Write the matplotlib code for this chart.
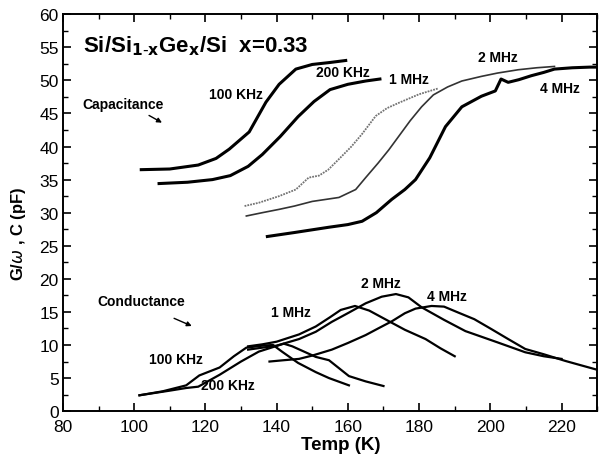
import matplotlib
matplotlib.use("Agg")
import matplotlib.pyplot as plt
from matplotlib.ticker import MultipleLocator

plt.rcParams['font.family'] = ['Liberation Sans', 'DejaVu Sans']

# ---- capacitance curves (pF) ----
c100k_T = [102, 110, 118, 123, 126.7, 132.3, 137, 140.7, 145.4, 150, 155, 159.4]
c100k_C = [36.5, 36.6, 37.2, 38.2, 39.6, 42.2, 46.7, 49.4, 51.7, 52.4, 52.7, 53.0]

c200k_T = [107, 115, 122, 127, 132, 136, 141, 146, 150.5, 155, 160, 165, 169]
c200k_C = [34.4, 34.6, 35.0, 35.6, 37.0, 38.8, 41.5, 44.5, 46.8, 48.6, 49.4, 49.9, 50.2]

c1m_T = [131, 135, 140.7, 145.4, 149, 151.9, 154.5, 157.5, 161, 164, 167.8, 171, 174.3, 180, 185.5]
c1m_C = [31.0, 31.5, 32.5, 33.5, 35.3, 35.6, 36.5, 38.1, 40.0, 41.9, 44.6, 45.8, 46.6, 47.9, 48.8]

c2m_T = [131.5, 136, 140.7, 145, 150, 157.5, 162.2, 165, 168.5, 171.5, 174.5, 177.5,
         180.7, 184, 188, 192, 197.5, 202, 207.8, 213, 218]
c2m_C = [29.5, 30.0, 30.5, 31.0, 31.7, 32.3, 33.5, 35.3, 37.5, 39.5, 41.7, 43.9,
         46.0, 47.8, 49.0, 49.9, 50.6, 51.1, 51.6, 51.9, 52.1]

c4m_T = [137.4, 145, 154.7, 160, 164, 168, 172.3, 176, 179, 183, 187.4, 192, 197.5,
         201.4, 203, 205, 208, 211.5, 215, 218, 223, 228, 230]
c4m_C = [26.4, 27.0, 27.8, 28.2, 28.7, 30.0, 32.0, 33.5, 35.0, 38.3, 43.0, 46.0, 47.6,
         48.4, 50.2, 49.7, 50.1, 50.7, 51.2, 51.7, 51.9, 52.0, 52.0]

# ---- conductance curves G/w (pF) ----
g100k_T = [101.5, 108, 114.6, 118.3, 124, 128, 131.5, 136, 139, 141.5, 146, 151, 154.7, 160.3]
g100k_G = [2.4, 3.0, 3.9, 5.4, 6.6, 8.3, 9.6, 9.9, 10.0, 9.0, 7.3, 5.9, 5.0, 3.9]

g200k_T = [101.5, 110, 114.6, 118, 124, 130, 135, 138.5, 142, 144.4, 151, 154.7, 160.3, 165, 170]
g200k_G = [2.4, 3.1, 3.5, 3.7, 5.5, 7.5, 9.0, 9.6, 10.2, 9.8, 8.2, 7.7, 5.3, 4.5, 3.8]

g1m_T = [132, 136, 140, 146.3, 151, 155, 158, 162, 166, 171.5, 176, 181.8, 186, 190]
g1m_G = [9.8, 10.1, 10.5, 11.6, 12.8, 14.2, 15.3, 15.9, 15.2, 13.6, 12.3, 10.9, 9.5, 8.3]

g2m_T = [132, 136, 140, 146.3, 151, 155.5, 160.3, 165, 169.5, 173.5, 177, 180.7,
         187, 193, 202, 209.8, 215, 220]
g2m_G = [9.3, 9.6, 9.9, 10.9, 12.0, 13.5, 14.9, 16.3, 17.3, 17.7, 17.2, 15.7,
         13.8, 12.1, 10.4, 8.9, 8.3, 7.9]

g4m_T = [138, 142, 146.3, 150, 155.5, 160, 165, 168.5, 172.4, 176, 179, 183.5, 187,
         191, 195.5, 200.3, 205, 209.8, 215, 221, 225, 229.7]
g4m_G = [7.5, 7.7, 7.9, 8.4, 9.3, 10.3, 11.5, 12.5, 13.6, 14.8, 15.5, 15.9, 15.8,
         14.9, 13.9, 12.4, 10.9, 9.4, 8.6, 7.6, 7.0, 6.3]

# curve labels: (text, T, value)
cap_labels = [("100 KHz", 121.1, 47.9), ("200 KHz", 151.0, 51.2), ("1 MHz", 171.5, 50.2),
              ("2 MHz", 196.6, 53.6), ("4 MHz", 214.0, 48.8)]
cond_labels = [("100 KHz", 104.3, 7.9), ("200 KHz", 118.9, 3.9), ("1 MHz", 138.5, 15.0),
               ("2 MHz", 163.6, 19.3), ("4 MHz", 182.1, 17.4)]

fig = plt.figure(figsize=(5.99, 4.60), dpi=100)
ax = fig.add_axes([0.105, 0.104, 0.892, 0.863])

# capacitance
ax.plot(c100k_T, c100k_C, color='black', lw=2.2)
ax.plot(c200k_T, c200k_C, color='black', lw=2.2)
ax.plot(c1m_T, c1m_C, color='0.45', lw=1.3, ls=(0, (1, 0.6)))
ax.plot(c2m_T, c2m_C, color='0.2', lw=1.2)
ax.plot(c4m_T, c4m_C, color='black', lw=2.2)

# conductance
for T, G in [(g100k_T, g100k_G), (g200k_T, g200k_G), (g1m_T, g1m_G),
             (g2m_T, g2m_G), (g4m_T, g4m_G)]:
    ax.plot(T, G, color='black', lw=1.6)

for txt, x, y in cap_labels + cond_labels:
    ax.text(x, y, txt, fontsize=10, fontweight='bold', va='center', ha='left')

ax.text(85.6, 55.3, r'Si/Si$_{\mathbf{1\text{-}x}}$Ge$_{\mathbf{x}}$/Si  x=0.33',
        fontsize=16, fontweight='bold', va='center', ha='left')
ax.text(85.6, 46.4, 'Capacitance', fontsize=10, fontweight='bold', va='center')
ax.annotate('', xy=(108.5, 43.4), xytext=(103.5, 44.9),
            arrowprops=dict(arrowstyle='-|>', color='black', lw=1.0, mutation_scale=7))
ax.text(89.8, 16.6, 'Conductance', fontsize=10, fontweight='bold', va='center')
ax.annotate('', xy=(116.9, 12.7), xytext=(110.5, 14.2),
            arrowprops=dict(arrowstyle='-|>', color='black', lw=1.0, mutation_scale=7))

ax.set_xlim(80, 230)
ax.set_ylim(0, 60)
ax.xaxis.set_major_locator(MultipleLocator(20))
ax.xaxis.set_minor_locator(MultipleLocator(10))
ax.yaxis.set_major_locator(MultipleLocator(5))
ax.yaxis.set_minor_locator(MultipleLocator(2.5))
ax.tick_params(which='both', direction='in', top=True, right=True, labelsize=12.5)
ax.tick_params(axis='x', which='major', pad=6)
ax.tick_params(axis='y', which='major', pad=3)
ax.tick_params(which='major', length=6, width=1.2)
ax.tick_params(which='minor', length=3.5, width=1.0)
for s in ax.spines.values():
    s.set_linewidth(1.4)

ax.set_xlabel('Temp (K)', fontsize=13.5, fontweight='bold')
ax.set_ylabel(r'G/$\omega$ , C (pF)', fontsize=12, fontweight='bold')
ax.xaxis.set_label_coords(0.52, -0.062)
ax.yaxis.set_label_coords(-0.065, 0.45)

fig.savefig('out.png', dpi=100)
